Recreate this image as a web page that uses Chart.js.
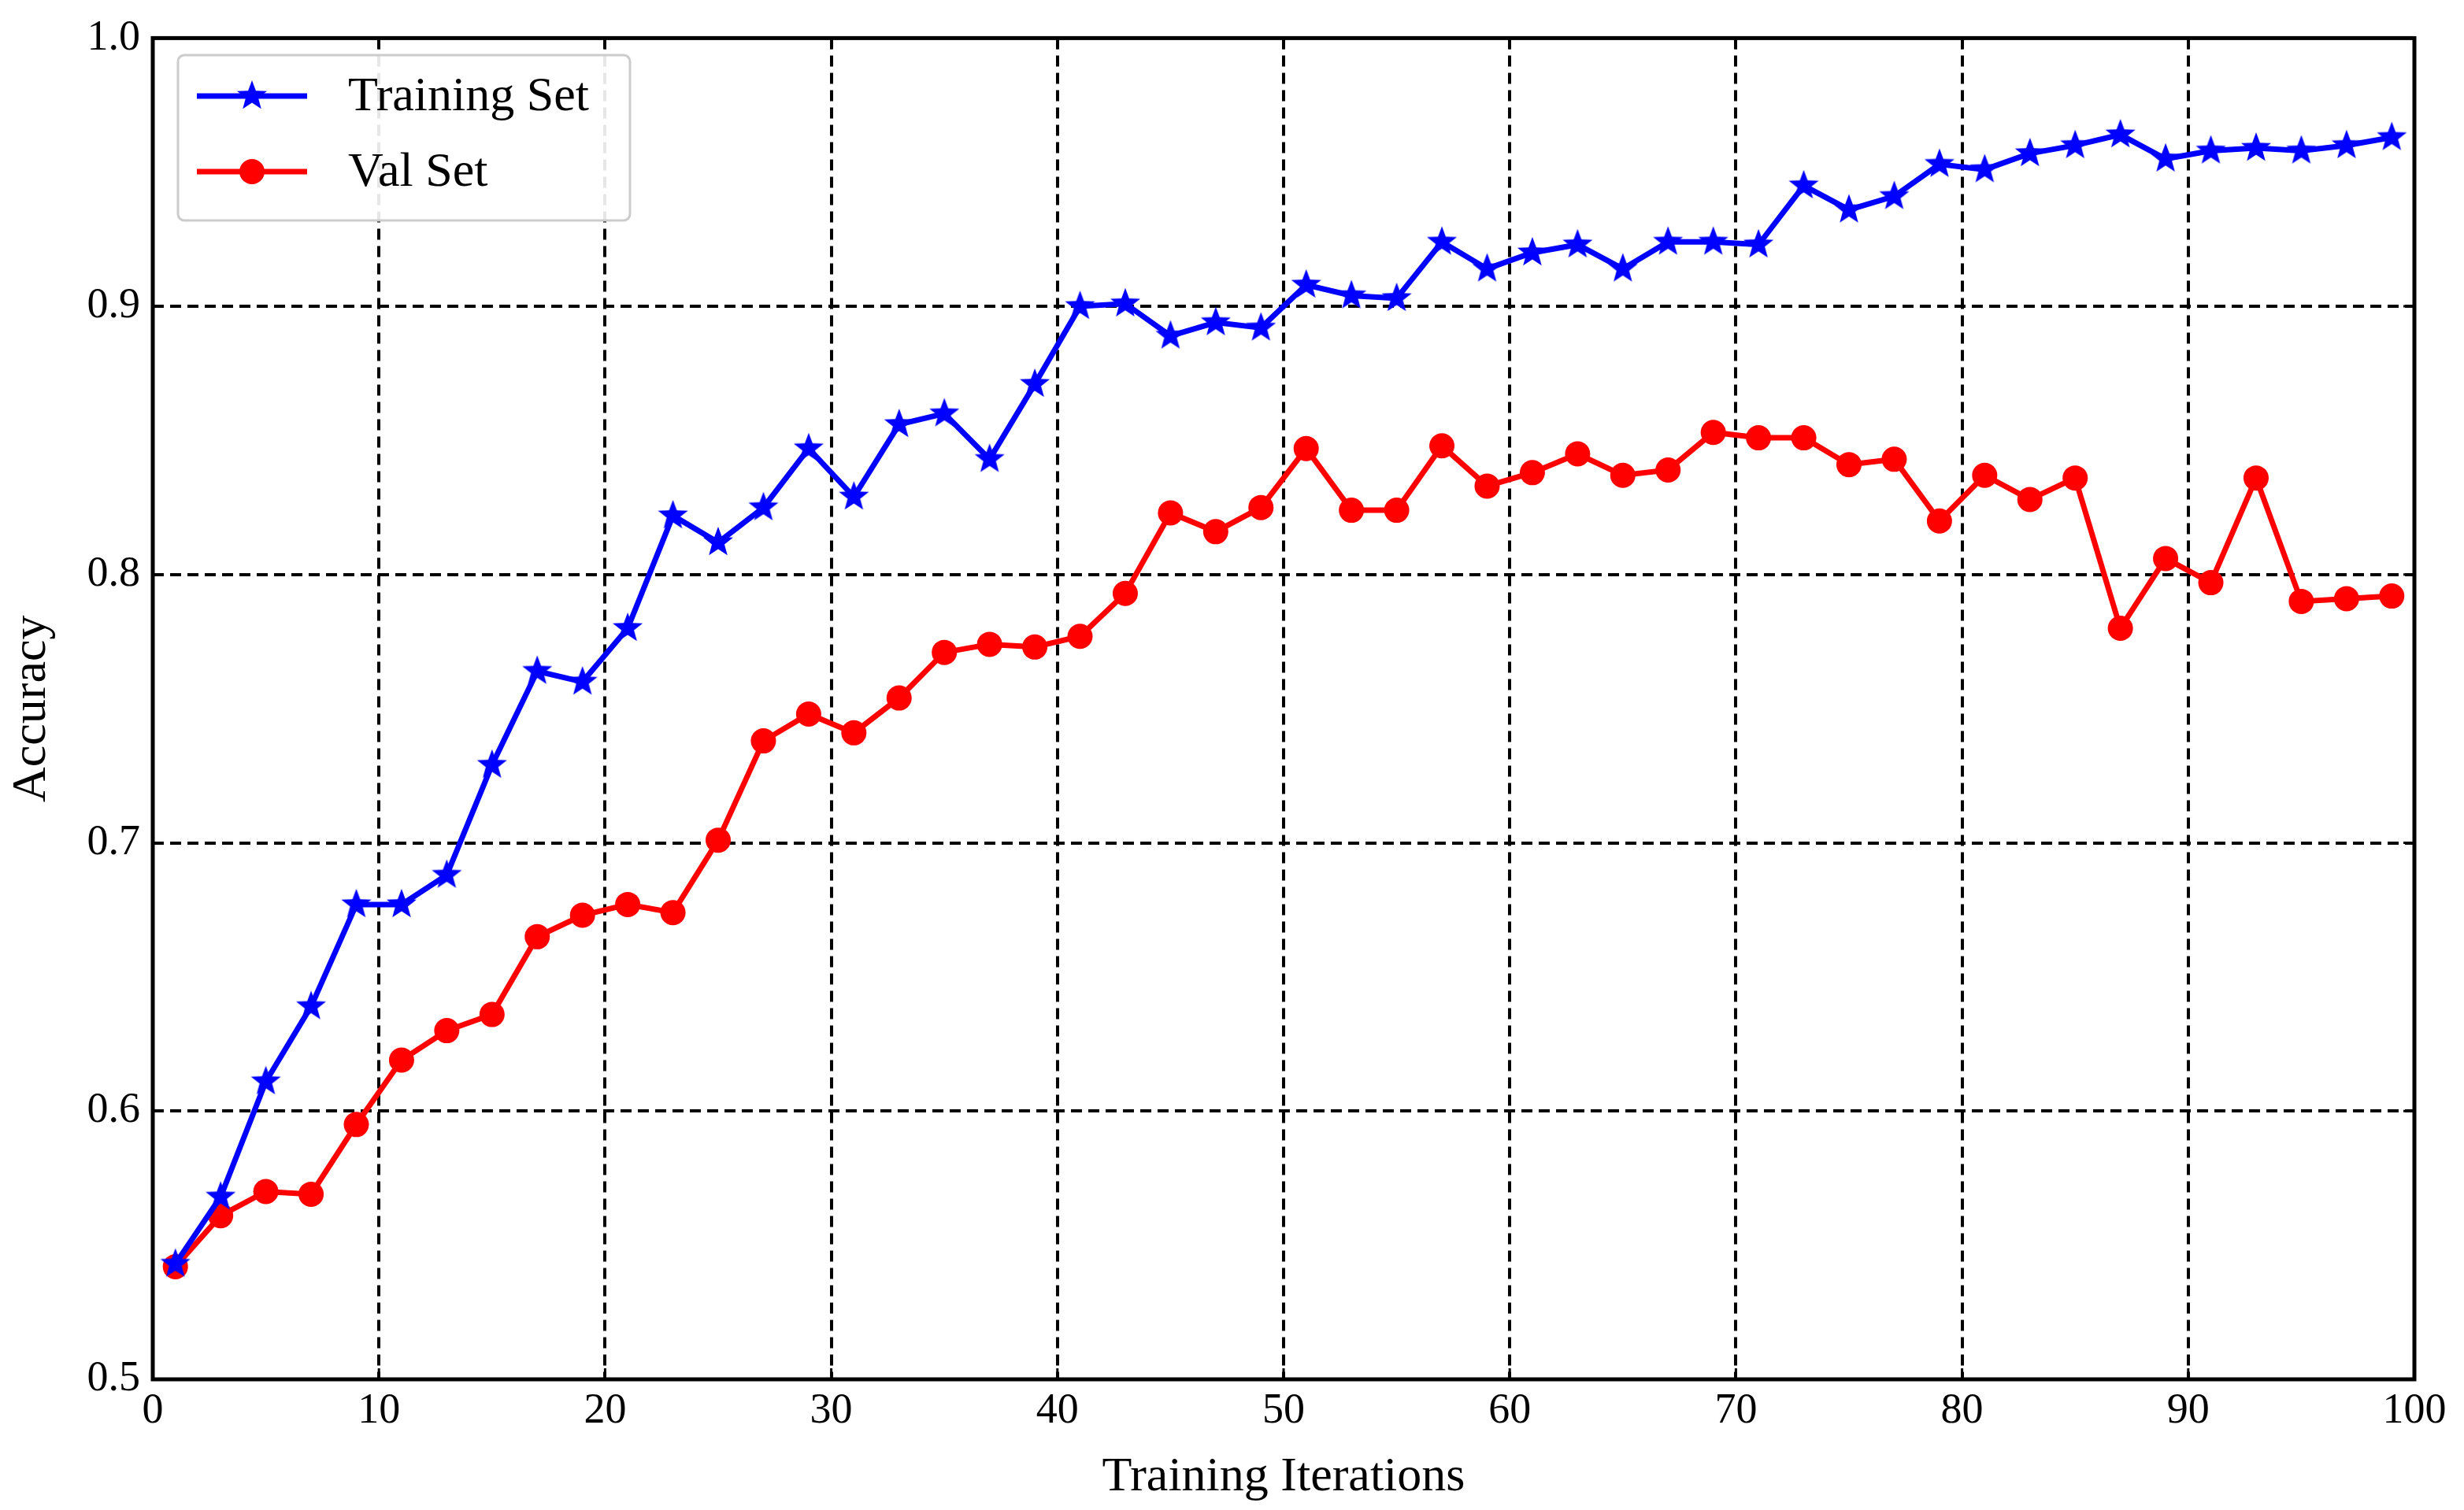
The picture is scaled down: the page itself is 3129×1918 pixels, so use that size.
<!DOCTYPE html>
<html><head><meta charset="utf-8">
<script src="https://cdn.jsdelivr.net/npm/chart.js@4"></script>
<style>html,body{margin:0;padding:0;background:#fff}#c{display:block}</style>
</head><body>
<canvas id="c" width="3129" height="1918"></canvas>
<script>
const iterations = Array.from({length:50},(_,i)=>2*i+1);
const trainAcc = [0.543,0.568,0.611,0.639,0.677,0.677,0.688,0.729,0.764,0.760,0.780,0.822,0.812,0.825,0.847,0.829,0.856,0.860,0.843,0.871,0.900,0.901,0.889,0.894,0.892,0.908,0.904,0.903,0.924,0.914,0.920,0.923,0.914,0.924,0.924,0.923,0.945,0.936,0.941,0.953,0.951,0.957,0.960,0.964,0.955,0.958,0.959,0.958,0.960,0.963];
const valAcc = [0.542,0.561,0.570,0.569,0.595,0.619,0.630,0.636,0.665,0.673,0.677,0.674,0.701,0.738,0.748,0.741,0.754,0.771,0.774,0.773,0.777,0.793,0.823,0.816,0.825,0.847,0.824,0.824,0.848,0.833,0.838,0.845,0.837,0.839,0.853,0.851,0.851,0.841,0.843,0.820,0.837,0.828,0.836,0.780,0.806,0.797,0.836,0.790,0.791,0.792];
const seriesNames = ['Training Set','Val Set'];
const FONT = '"Liberation Serif","DejaVu Serif",serif';

function starImg(r,color){
  const c=document.createElement('canvas');c.width=c.height=2*r+4;
  const x=c.getContext('2d');x.fillStyle=color;x.beginPath();
  for(let i=0;i<10;i++){const a=-Math.PI/2+i*Math.PI/5;const rr=i%2?r*0.42:r;
    x.lineTo(r+2+rr*Math.cos(a),r+2+rr*Math.sin(a));}
  x.closePath();x.fill();return c;
}
const star=starImg(20,'#0000ff');

const frame={id:'frame',afterDraw(ch){
  const {ctx,chartArea:a,scales}=ch;ctx.save();
  ctx.strokeStyle='#000';ctx.lineWidth=5;ctx.strokeRect(a.left,a.top,a.right-a.left,a.bottom-a.top);
  ctx.lineWidth=3;
  scales.x.ticks.forEach(t=>{const px=scales.x.getPixelForValue(t.value);
    ctx.beginPath();ctx.moveTo(px,a.bottom);ctx.lineTo(px,a.bottom-14);ctx.moveTo(px,a.top);ctx.lineTo(px,a.top+14);ctx.stroke();});
  scales.y.ticks.forEach(t=>{const py=scales.y.getPixelForValue(t.value);
    ctx.beginPath();ctx.moveTo(a.left,py);ctx.lineTo(a.left+14,py);ctx.moveTo(a.right,py);ctx.lineTo(a.right-14,py);ctx.stroke();});
  const lx=226,ly=70,lw=574,lh=210;
  ctx.fillStyle='rgba(255,255,255,0.9)';ctx.strokeStyle='#ccc';ctx.lineWidth=3;
  ctx.beginPath();ctx.roundRect(lx,ly,lw,lh,8);ctx.fill();ctx.stroke();
  const ds=ch.data.datasets;
  [0,1].forEach(i=>{const y=ly+52+i*96;
    ctx.strokeStyle=ds[i].borderColor;ctx.lineWidth=7;ctx.beginPath();ctx.moveTo(lx+24,y);ctx.lineTo(lx+164,y);ctx.stroke();
    if(i===0)ctx.drawImage(star,lx+94-22,y-22);
    else{ctx.fillStyle='#ff0000';ctx.beginPath();ctx.arc(lx+94,y,16,0,2*Math.PI);ctx.fill();}
    ctx.fillStyle='#000';ctx.font='62px '+FONT;ctx.textBaseline='middle';ctx.fillText(seriesNames[i],lx+216,y+2);
  });
  ctx.restore();
}};

new Chart(document.getElementById('c'),{
  type:'line',
  data:{labels:iterations,datasets:[
    {label:seriesNames[0],data:iterations.map((x,i)=>({x,y:trainAcc[i]})),borderColor:'#0000ff',borderWidth:7,pointStyle:star,pointRadius:20,tension:0},
    {label:seriesNames[1],data:iterations.map((x,i)=>({x,y:valAcc[i]})),borderColor:'#ff0000',backgroundColor:'#ff0000',borderWidth:7,pointStyle:'circle',pointRadius:16,pointBorderWidth:0,tension:0}
  ]},
  options:{responsive:false,animation:false,devicePixelRatio:1,
    layout:{padding:{left:0,right:63,top:28,bottom:0}},
    plugins:{legend:{display:false},tooltip:{enabled:false}},
    scales:{
      x:{type:'linear',min:0,max:100,
        ticks:{stepSize:10,color:'#000',font:{family:FONT,size:54},padding:8},
        grid:{color:'#000',lineWidth:4,drawTicks:false},border:{display:false,dash:[14,8]},
        title:{display:true,text:'Training Iterations',color:'#000',font:{family:FONT,size:62},padding:{top:0}},
        afterFit(s){s.height=166;}},
      y:{min:0.5,max:1.0,
        ticks:{stepSize:0.1,color:'#000',font:{family:FONT,size:54},padding:16,callback:v=>v.toFixed(1)},
        grid:{color:'#000',lineWidth:4,drawTicks:false},border:{display:false,dash:[14,8]},
        title:{display:true,text:'Accuracy',color:'#000',font:{family:FONT,size:62},padding:{bottom:4}},
        afterFit(s){s.width=194;}}
    }},
  plugins:[frame]
});
</script>
</body></html>
